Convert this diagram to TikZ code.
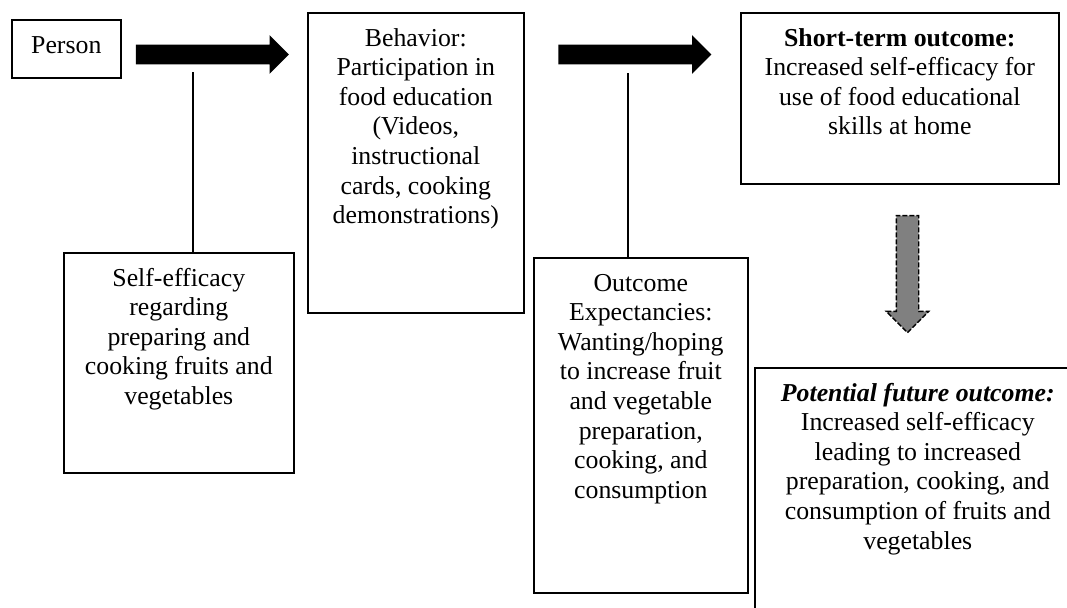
\documentclass[tikz,border=0pt]{standalone}
\usepackage{fontspec}
\setmainfont{Liberation Serif}
\usetikzlibrary{shapes.arrows}

\begin{document}
\begin{tikzpicture}
[x=0.5pt,y=-0.5pt
,font=\fontsize{12.9}{14.8}\selectfont
,box/.style 2 args={draw,line width=0.8pt,anchor=north west,inner sep=0pt
  ,execute at begin node={\begin{minipage}[t][#2][t]{#1}\centering\rule{0pt}{16.6pt}}
  ,execute at end node={\end{minipage}}}
,bigarr/.style={single arrow,fill=black,inner sep=4.75pt
  ,single arrow head extend=4.75pt,single arrow tip angle=90,minimum height=76.5pt}
,downarr/.style={single arrow,fill=gray,draw=black,line width=0.7pt
  ,dash pattern=on 2.5pt off 1pt,inner sep=5.25pt
  ,single arrow head extend=5pt,single arrow tip angle=90,minimum height=58.5pt}
,link/.style={draw=black,line width=0.6pt}]
\useasboundingbox (0,0) rectangle (1067,607);
\clip (0,0) rectangle (1067,607);
\node[box={54.5pt}{29pt}] (person) at (11,19) {Person};
\node[box={115pt}{110pt}] (selfeff) at (63,252)
  {Self-efficacy\\regarding\\preparing and\\cooking fruits and\\vegetables};
\node[box={108pt}{150pt}] (behav) at (307,12)
  {Behavior:\\Participation in\\food education\\(Videos,\\instructional\\cards, cooking\\demonstrations)};
\node[box={107pt}{167.5pt}] (outexp) at (533,257)
  {Outcome\\Expectancies:\\Wanting/hoping\\to increase fruit\\and vegetable\\preparation,\\cooking, and\\consumption};
\node[box={159pt}{85.5pt}] (shortout) at (740,12)
  {\textbf{Short-term outcome:}\\Increased self-efficacy for\\use of food educational\\skills at home};
\node[box={163pt}{170pt}] (futout) at (754,367)
  {\textbf{\textit{Potential future outcome:}}\\Increased self-efficacy\\leading to increased\\preparation, cooking, and\\consumption of fruits and\\vegetables};
\node[bigarr] (arrA) at (207.5,54.5) {};
\node[bigarr] (arrB) at (630,54.5) {};
\node[downarr,rotate=-90] (arrC) at (907.5,268.5) {};
\coordinate (ta) at (193,72);
\coordinate (tb) at (628,73);
\draw[link] (ta) -- (ta |- selfeff.north);
\draw[link] (tb) -- (tb |- outexp.north);
\end{tikzpicture}
\end{document}
